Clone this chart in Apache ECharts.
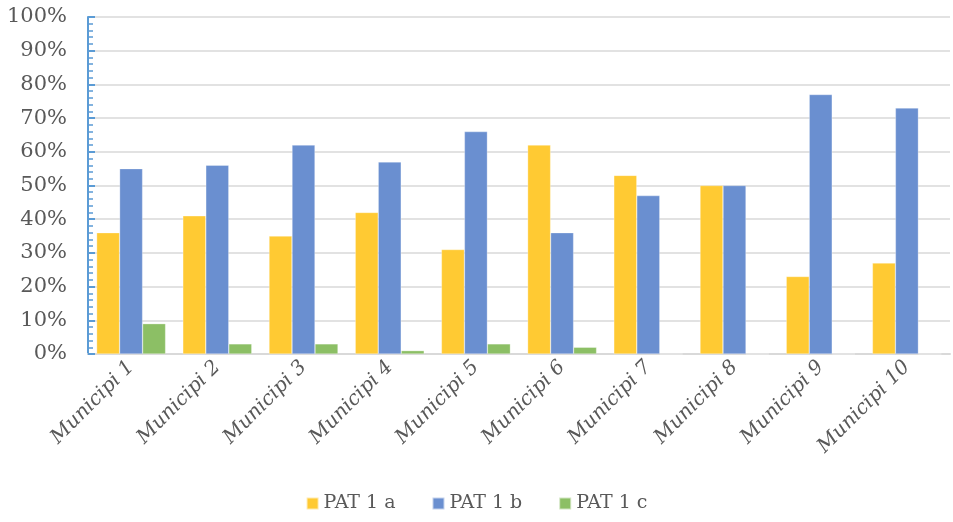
<!DOCTYPE html>
<html><head><meta charset="utf-8">
<script src="https://cdn.jsdelivr.net/npm/echarts@6/dist/echarts.min.js"></script>
<style>html,body{margin:0;padding:0;background:#fff}#c{width:953px;height:522px}</style>
</head><body><div id="c"></div>
<script>
const categories = ['Municipi 1','Municipi 2','Municipi 3','Municipi 4','Municipi 5','Municipi 6','Municipi 7','Municipi 8','Municipi 9','Municipi 10'];
const pat1a = [36, 41, 35, 42, 31, 62, 53, 50, 23, 27];
const pat1b = [55, 56, 62, 57, 66, 36, 47, 50, 77, 73];
const pat1c = [9, 3, 3, 1, 3, 2, 0, 0, 0, 0];
const seriesNames = ['PAT 1 a','PAT 1 b','PAT 1 c'];
const colors = ['#ffca33','#6a8fd0','#8cbf65'];
const FONT = 'DejaVu Serif';
const chart = echarts.init(document.getElementById('c'));
const mk = (name, data, i) => ({
  name, type:'bar', data, barGap:'0%', barCategoryGap:'20%',
  itemStyle:{color:colors[i], borderColor:'rgba(255,255,255,0.6)', borderWidth:0.5}
});
chart.setOption({
  animation:false,
  color: colors,
  grid:{left:88, right:3, top:17, bottom:168, containLabel:false},
  legend:{bottom:4, left:'center', itemWidth:12, itemHeight:12, itemGap:36, icon:'rect',
    textStyle:{fontFamily:FONT, fontSize:19, color:'#595959'}, data:seriesNames},
  xAxis:{type:'category', data:categories,
    axisLine:{lineStyle:{color:'#d9d9d9', width:2}},
    axisTick:{show:false},
    axisLabel:{rotate:45, interval:0, margin:10, fontFamily:FONT, fontStyle:'italic', fontSize:20, color:'#595959'}},
  yAxis:{type:'value', min:0, max:100, interval:10,
    axisLine:{show:true, lineStyle:{color:'#5b9bd5', width:2}},
    axisTick:{show:true, inside:true, length:7, lineStyle:{color:'#5b9bd5', width:2}},
    minorTick:{show:true, splitNumber:5, length:5, lineStyle:{color:'#5b9bd5', width:1.5}},
    splitLine:{lineStyle:{color:'#d9d9d9', width:1.5}},
    axisLabel:{formatter:'{value}%', margin:21, fontFamily:FONT, fontSize:21, color:'#595959'}},
  series:[mk(seriesNames[0], pat1a, 0), mk(seriesNames[1], pat1b, 1), mk(seriesNames[2], pat1c, 2)]
});
</script></body></html>
